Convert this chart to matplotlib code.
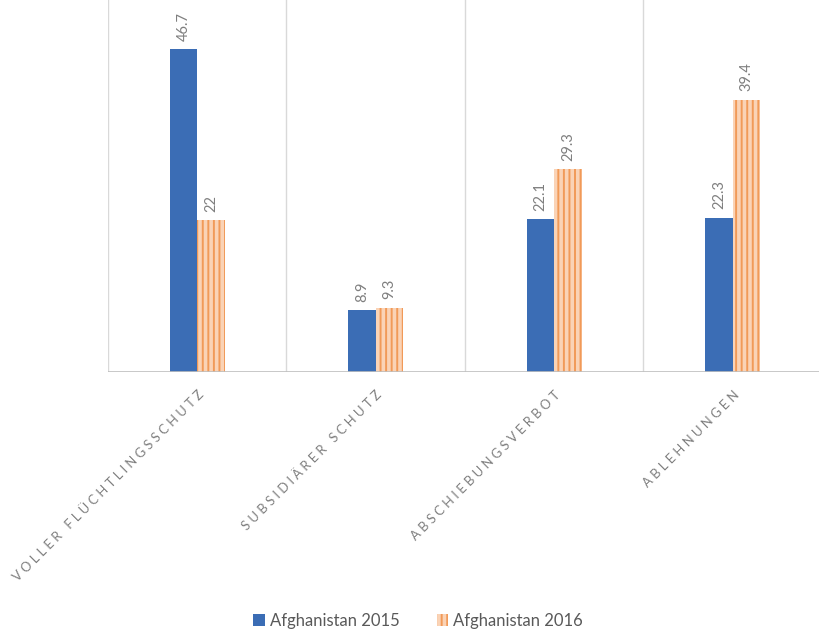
import matplotlib.pyplot as plt
import numpy as np
from matplotlib.patches import Patch

plt.rcParams['font.family'] = ['Lato', 'DejaVu Sans']
plt.rcParams['hatch.linewidth'] = 1.4

categories = ['Voller Flüchtlingsschutz', 'Subsidiärer Schutz', 'Abschiebungsverbot', 'Ablehnungen']
afg_2015 = [46.7, 8.9, 22.1, 22.3]
afg_2016 = [22, 9.3, 29.3, 39.4]
series_names = ['Afghanistan 2015', 'Afghanistan 2016']

blue = '#3B6DB5'
orange_face = '#FAD3B6'
orange_line = '#F19A58'
grey_text = '#7F7F7F'
grid_col = '#D9D9D9'


def spaced(text):
    # stretch the caps labels a bit, like tracking in office charts
    return '\u2005'.join(text.upper())


fig = plt.figure(figsize=(8.2, 6.36), dpi=100)
ax = fig.add_axes([108 / 820, 264 / 636, 714 / 820, 372 / 636])

x = np.arange(len(categories))
w = 0.155
b1 = ax.bar(x - w / 2, afg_2015, w, color=blue, linewidth=0)
b2 = ax.bar(x + w / 2, afg_2016, w, facecolor=orange_face, edgecolor=orange_line,
            hatch='|||', linewidth=0)

for bars, vals in ((b1, afg_2015), (b2, afg_2016)):
    for r, v in zip(bars, vals):
        ax.annotate(f'{v:g}', (r.get_x() + r.get_width() / 2, v), xytext=(0, 6),
                    textcoords='offset points', rotation=90, ha='center', va='bottom',
                    fontsize=10.5, color=grey_text)

ax.set_xlim(-0.5, len(categories) - 0.5)
ax.set_ylim(0, 53.8)
for b in np.arange(-0.5, len(categories), 1.0):
    ax.axvline(b, color=grid_col, lw=1, zorder=0)
ax.axhline(0, color='#BFBFBF', lw=1.2, zorder=3)

for s in ax.spines.values():
    s.set_visible(False)
ax.set_yticks([])
ax.set_xticks(x)
ax.set_xticklabels([spaced(c) for c in categories], rotation=45, ha='right',
                   rotation_mode='anchor', fontsize=9.4, color=grey_text)
ax.tick_params(axis='x', length=0, pad=12)

handles = [Patch(facecolor=blue, linewidth=0),
           Patch(facecolor=orange_face, edgecolor=orange_line, hatch='|||', linewidth=0)]
fig.legend(handles, series_names, loc='lower center', bbox_to_anchor=(0.51, -0.012),
           ncol=2, frameon=False, fontsize=12, labelcolor='#595959',
           handlelength=0.7, handleheight=0.7, handletextpad=0.3, columnspacing=2.2)

fig.savefig('out.png', dpi=100)
